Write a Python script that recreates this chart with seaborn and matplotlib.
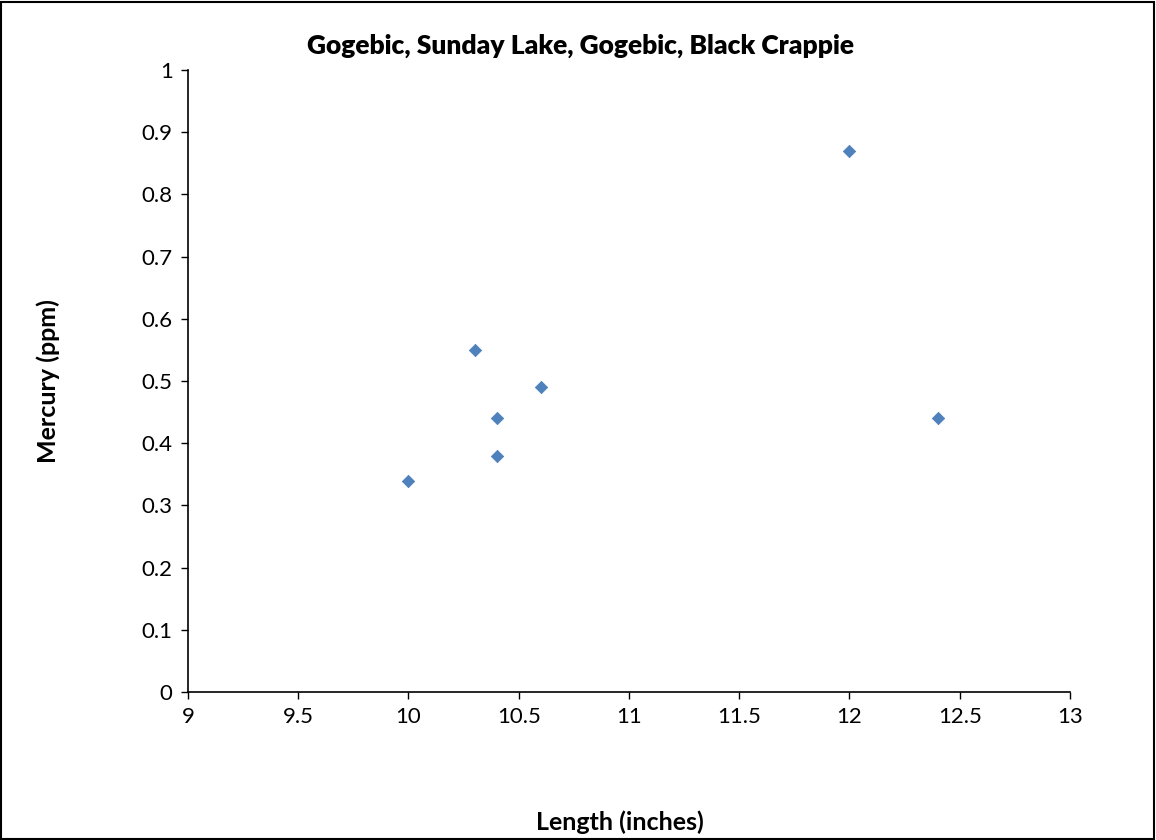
import pandas as pd
import numpy as np
import matplotlib.pyplot as plt
import seaborn as sns
from matplotlib.patches import Rectangle

# Data
length_in = [10.0, 10.3, 10.4, 10.4, 10.6, 12.0, 12.4]
mercury_ppm = [0.34, 0.55, 0.44, 0.38, 0.49, 0.87, 0.44]
x_ticks = [9, 9.5, 10, 10.5, 11, 11.5, 12, 12.5, 13]
y_ticks = [0, 0.1, 0.2, 0.3, 0.4, 0.5, 0.6, 0.7, 0.8, 0.9, 1]
y_tick_labels = ["0", "0.1", "0.2", "0.3", "0.4", "0.5", "0.6", "0.7", "0.8", "0.9", "1"]

fish = pd.DataFrame({"Length": length_in, "Mercury": mercury_ppm})

sns.set_style("ticks")
plt.rcParams["font.family"] = ["Lato", "DejaVu Sans"]
plt.rcParams["text.color"] = "black"
plt.rcParams["axes.labelcolor"] = "black"

fig = plt.figure(figsize=(11.56, 8.4), dpi=100)
ax = fig.add_axes([0.1626, 0.1762, 0.763, 0.7405])

sns.scatterplot(data=fish, x="Length", y="Mercury", ax=ax,
                marker="D", s=40, color="#4F81BD",
                edgecolor="#4A7EBB", linewidth=0.5)

ax.set_xlim(9, 13)
ax.set_ylim(0, 1)
ax.set_xticks(x_ticks)
ax.set_xticklabels([f"{t:g}" for t in x_ticks])
ax.set_yticks(y_ticks)
ax.set_yticklabels(y_tick_labels)
ax.tick_params(axis="both", labelsize=16, length=5, width=1, colors="black",
               direction="out", pad=6)
sns.despine(ax=ax)
for side in ["left", "bottom"]:
    ax.spines[side].set_linewidth(1.2)
    ax.spines[side].set_color("black")

ax.set_xlabel("Length (inches)", fontsize=18, fontweight="bold", color="black")
ax.set_ylabel("Mercury (ppm)", fontsize=18, fontweight="bold", color="black")
ax.xaxis.set_label_coords(0.49, -0.19)
ax.yaxis.set_label_coords(-0.145, 0.5)

fig.text(0.502, 0.945, "Gogebic, Sunday Lake, Gogebic, Black Crappie",
         ha="center", va="center", fontsize=19, fontweight="heavy", color="black")

# outer chart border
fig.patches.append(Rectangle((0.001, 0.001), 0.997, 0.997, transform=fig.transFigure,
                             fill=False, edgecolor="black", linewidth=1.5))

fig.savefig("out.png", dpi=100, facecolor="white")
